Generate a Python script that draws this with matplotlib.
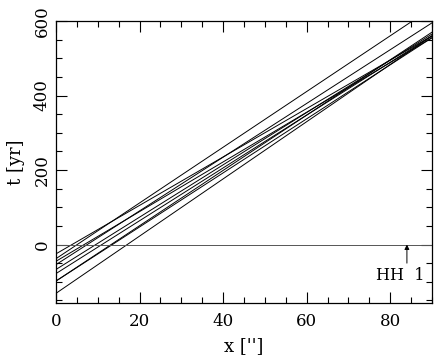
import matplotlib
matplotlib.use("Agg")
import matplotlib.pyplot as plt
from matplotlib.ticker import MultipleLocator

# line endpoints: t at x=0 and t at x=90
t_at_0 = [-25, -38, -45, -54, -67, -78, -98, -98, -131]
t_at_90 = [560, 635, 555, 595, 565, 560, 570, 555, 560]
x_ends = [0, 90]

plt.rcParams['font.family'] = ['DejaVu Serif']

fig = plt.figure(figsize=(4.39, 3.59), dpi=100)
ax = fig.add_axes([0.1276, 0.156, 0.8564, 0.7855])

for a, b in zip(t_at_0, t_at_90):
    ax.plot(x_ends, [a, b], color='black', lw=0.7)

ax.axhline(0, color='#555555', lw=0.7)
ax.annotate('', xy=(84, 0), xytext=(84, -50),
            arrowprops=dict(arrowstyle='-|>', color='black', lw=0.7,
                            mutation_scale=7, shrinkA=0, shrinkB=0))
ax.text(82.5, -82, 'HH  1', ha='center', va='center', fontsize=11.5)

ax.set_xlim(0, 90)
ax.set_ylim(-157, 600)
ax.xaxis.set_major_locator(MultipleLocator(20))
ax.xaxis.set_minor_locator(MultipleLocator(5))
ax.yaxis.set_major_locator(MultipleLocator(200))
ax.yaxis.set_minor_locator(MultipleLocator(50))
ax.tick_params(which='both', direction='in', top=True, right=True, labelsize=12, width=0.8)
ax.tick_params(axis='x', which='major', length=8, pad=7)
ax.tick_params(axis='y', which='major', length=8, pad=4)
ax.tick_params(which='minor', length=4.5)
for lab in ax.get_yticklabels():
    lab.set_rotation(90)
    lab.set_va('center')
for s in ax.spines.values():
    s.set_linewidth(0.9)

ax.set_xlabel("x ['']", fontsize=13, labelpad=5)
ax.set_ylabel("t [yr]", fontsize=13, labelpad=6)

fig.savefig('out.png', dpi=100)
